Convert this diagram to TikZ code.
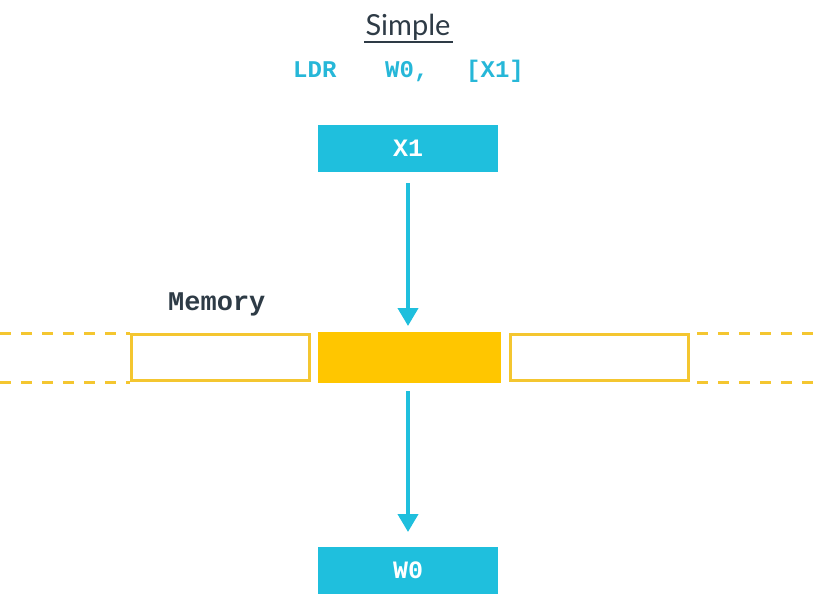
\documentclass[tikz,border=0pt]{standalone}
\usepackage{fontspec}
\setmainfont{Lato}
\newfontfamily\codefont{Liberation Mono}
\usetikzlibrary{arrows.meta}
\definecolor{regcyan}{HTML}{1FBFDD}
\definecolor{codecyan}{HTML}{26B7D8}
\definecolor{ink}{HTML}{2E3B46}
\definecolor{memfill}{HTML}{FFC600}
\definecolor{memline}{HTML}{F4C630}
\newcommand\codeface[1]{\codefont\bfseries\fontsize{#1}{#1}\selectfont}
\tikzset{
  register/.style={fill=regcyan, draw=none, minimum width=180pt, minimum height=47pt,
    inner sep=0pt, text=white, font=\codeface{25}},
  cell/.style={draw=memline, line width=3pt, minimum width=178pt, minimum height=46pt, inner sep=0pt},
  activecell/.style={fill=memfill, draw=none, minimum width=183pt, minimum height=51pt, inner sep=0pt},
  code/.style={text=codecyan, font=\codeface{24}, inner sep=0pt, anchor=base west},
  flow/.style={draw=regcyan, line width=4pt, -{Triangle[width=20pt,length=18pt]}},
  busline/.style={draw=memline, line width=3pt, dash pattern=on 11pt off 10pt},
}
\begin{document}
\begin{tikzpicture}[x=1pt,y=-1pt]
  \useasboundingbox (0,0) rectangle (832,608);

  % heading
  \node[text=ink, font=\fontsize{29}{29}\selectfont, inner sep=0pt, anchor=base] (title) at (408,35) {Simple};
  \draw[ink, line width=1.5pt] (364,42) -- (453,42);

  % instruction
  \node[code] (op) at (293,77) {LDR};
  \node[code] (dst) at (385,77) {W0,};
  \node[code] (src) at (466,77) {[X1]};

  % registers
  \node[register] (x1) at (408,148.5) {X1};
  \node[register] (w0) at (408,570) {W0};

  % memory
  \node[text=ink, font=\codeface{27}, inner sep=0pt, anchor=base west] (memlabel) at (168,310) {Memory};
  \node[cell] (mleft) at (220.5,357.5) {};
  \node[activecell] (mmid) at (409.5,357.5) {};
  \node[cell] (mright) at (599.5,357.5) {};

  \coordinate (lt) at (0,333);
  \coordinate (lb) at (0,382);
  \coordinate (rt) at (820,333);
  \coordinate (rb) at (820,382);
  \draw[busline] (lt) -- (mleft.north west);
  \draw[busline] (lb) -- (mleft.south west);
  \draw[busline] (mright.north east) ++(7,0) -- (rt);
  \draw[busline] (mright.south east) ++(7,0) -- (rb);

  % data flow
  \draw[flow] (x1.south) ++(0,11) -- (408,326);
  \draw[flow] (mmid.south -| x1.south) ++(0,8) -- (408,532);
\end{tikzpicture}
\end{document}
